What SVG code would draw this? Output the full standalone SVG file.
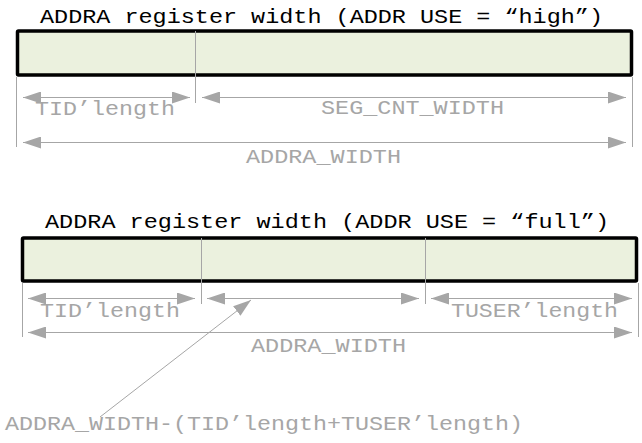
<svg xmlns="http://www.w3.org/2000/svg" width="642" height="443" viewBox="0 0 642 443">
<defs>
<style>
.title{font-family:"Liberation Mono","Courier New",monospace;font-size:21px;fill:#000}
.lbl{font-family:"Liberation Mono","Courier New",monospace;font-size:21px;fill:#a6a6a6}
.reg{fill:#ebf1de;stroke:#000;stroke-width:3.5}
.div{stroke:#a6a6a6;stroke-width:1;fill:none}
.dim{stroke:#a6a6a6;stroke-width:1;fill:none;marker-start:url(#ah);marker-end:url(#ah)}
.lead{stroke:#a6a6a6;stroke-width:1;fill:none;marker-end:url(#ah)}
</style>
<marker id="ah" viewBox="0 0 18 12" refX="18" refY="6" markerWidth="18" markerHeight="12" markerUnits="userSpaceOnUse" orient="auto-start-reverse">
<path d="M0,0 L18,6 L0,12 Z" fill="#a6a6a6"/>
</marker>
</defs>

<g id="high">
<text class="title" x="40" y="23" textLength="563" lengthAdjust="spacingAndGlyphs">ADDRA register width (ADDR USE = “high”)</text>
<rect class="reg" x="17.5" y="31" width="614" height="44" rx="1"/>
<line class="div" x1="195.5" y1="31" x2="195.5" y2="103"/>
</g>

<g id="full">
<text class="title" x="45" y="228" textLength="564" lengthAdjust="spacingAndGlyphs">ADDRA register width (ADDR USE = “full”)</text>
<rect class="reg" x="22.5" y="238" width="614" height="43" rx="1"/>
<line class="div" x1="201.5" y1="238" x2="201.5" y2="304"/>
<line class="div" x1="425.5" y1="238" x2="425.5" y2="304"/>
</g>

<g id="connectors">
<line class="div" x1="16.5" y1="77" x2="16.5" y2="147"/>
<line class="div" x1="632.5" y1="77" x2="632.5" y2="147"/>
<line class="dim" x1="23" y1="97.5" x2="190" y2="97.5"/>
<line class="dim" x1="202" y1="97.5" x2="626" y2="97.5"/>
<line class="dim" x1="23" y1="142.5" x2="626" y2="142.5"/>

<line class="div" x1="22.5" y1="283" x2="22.5" y2="337"/>
<line class="div" x1="638.5" y1="283" x2="638.5" y2="337"/>
<line class="dim" x1="28" y1="298.5" x2="195" y2="298.5"/>
<line class="dim" x1="207" y1="298.5" x2="419" y2="298.5"/>
<line class="dim" x1="431" y1="298.5" x2="632" y2="298.5"/>
<line class="dim" x1="28" y1="332.5" x2="632" y2="332.5"/>
<line class="lead" x1="100" y1="417" x2="251" y2="300"/>
</g>

<g id="labels">
<text class="lbl" x="35" y="115" textLength="140" lengthAdjust="spacingAndGlyphs">TID’length</text>
<text class="lbl" x="321" y="114" textLength="183" lengthAdjust="spacingAndGlyphs">SEG_CNT_WIDTH</text>
<text class="lbl" x="246" y="163" textLength="155" lengthAdjust="spacingAndGlyphs">ADDRA_WIDTH</text>
<text class="lbl" x="40" y="317" textLength="140" lengthAdjust="spacingAndGlyphs">TID’length</text>
<text class="lbl" x="451" y="317" textLength="167" lengthAdjust="spacingAndGlyphs">TUSER’length</text>
<text class="lbl" x="251" y="352" textLength="155" lengthAdjust="spacingAndGlyphs">ADDRA_WIDTH</text>
<text class="lbl" x="5" y="430" textLength="518" lengthAdjust="spacingAndGlyphs">ADDRA_WIDTH-(TID’length+TUSER’length)</text>
</g>
</svg>
